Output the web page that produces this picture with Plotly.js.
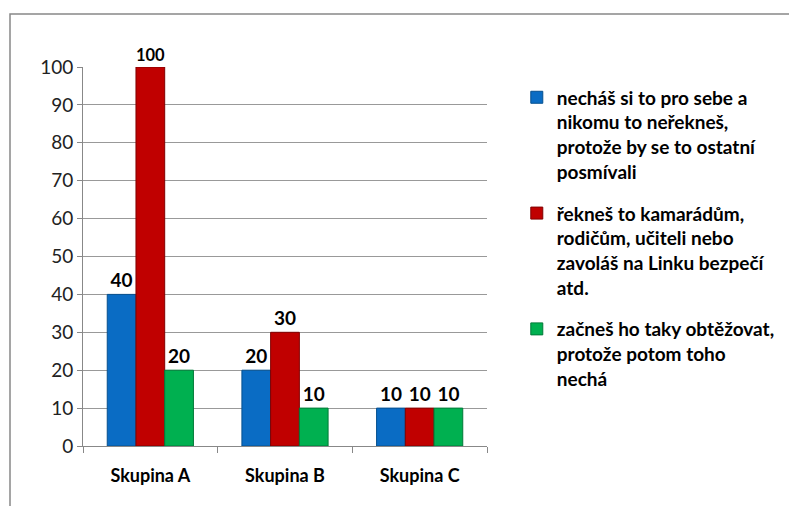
<!DOCTYPE html>
<html><head><meta charset="utf-8">
<script src="https://cdn.plot.ly/plotly-3.0.1.min.js"></script>
<style>html,body{margin:0;padding:0;background:#fff}#c{width:789px;height:506px}</style>
</head><body><div id="c"></div>
<script>
const categories = ["Skupina A", "Skupina B", "Skupina C"];
const seriesNames = [
  "necháš si to pro sebe a<br>nikomu to neřekneš,<br>protože by se to ostatní<br>posmívali",
  "řekneš to kamarádům,<br>rodičům, učiteli nebo<br>zavoláš na Linku bezpečí<br>atd.",
  "začneš ho taky obtěžovat,<br>protože potom toho<br>nechá"
];
const seriesA = [40, 20, 10];
const seriesB = [100, 30, 10];
const seriesC = [20, 10, 10];
const tickVals = [0,10,20,30,40,50,60,70,80,90,100];
const colors = ["#0A6CC4", "#C00000", "#00B050"];
const lineColors = ["#06508F", "#800000", "#007A38"];

const allSeries = [seriesA, seriesB, seriesC];
const traces = allSeries.map((vals, i) => ({
  type: "bar",
  name: seriesNames[i],
  legendgroup: "g" + i,
  x: categories,
  y: vals,
  text: vals.map(String),
  textposition: "outside",
  cliponaxis: false,
  textfont: {family: "Lato, 'Open Sans', sans-serif", size: 19, color: "#000", weight: "bold"},
  marker: {color: colors[i], line: {color: lineColors[i], width: 1}}
}));

const layout = {
  width: 789, height: 506,
  margin: {l: 83, r: 302, t: 67, b: 60},
  paper_bgcolor: "#fff", plot_bgcolor: "#fff",
  barmode: "group",
  bargap: 0.36,
  bargroupgap: 0,
  font: {family: "Lato, 'Open Sans', sans-serif", color: "#000"},
  xaxis: {
    showline: true, linecolor: "#888", linewidth: 1,
    ticks: "outside", tickson: "boundaries", ticklen: 6, tickcolor: "#888",
    showgrid: false,
    tickfont: {size: 18, weight: "bold", color: "#000"},
    ticklabelstandoff: 13
  },
  yaxis: {
    range: [0, 100], tickvals: tickVals, ticktext: tickVals.map(String),
    showgrid: true, gridcolor: "#999", gridwidth: 1,
    showline: true, linecolor: "#888", linewidth: 1,
    ticks: "outside", ticklen: 5, tickcolor: "#888",
    tickfont: {size: 19, color: "#222"},
    zeroline: false
  },
  legend: {
    xref: "container", yref: "container",
    x: 0.655, y: 0.845, xanchor: "left", yanchor: "top",
    valign: "top",
    maxheight: 1,
    font: {size: 19, weight: "bold", color: "#000"},
    tracegroupgap: 14, itemwidth: 30,
    bgcolor: "rgba(0,0,0,0)"
  },
  shapes: [{
    type: "rect", xref: "paper", yref: "paper",
    x0: -73/404, x1: 720/404, y0: -120/379, y1: 1 + 53/379,
    line: {color: "#888", width: 1.5}, fillcolor: "rgba(0,0,0,0)", layer: "below"
  }]
};

Plotly.newPlot("c", traces, layout, {displayModeBar: false, staticPlot: true});
</script></body></html>
